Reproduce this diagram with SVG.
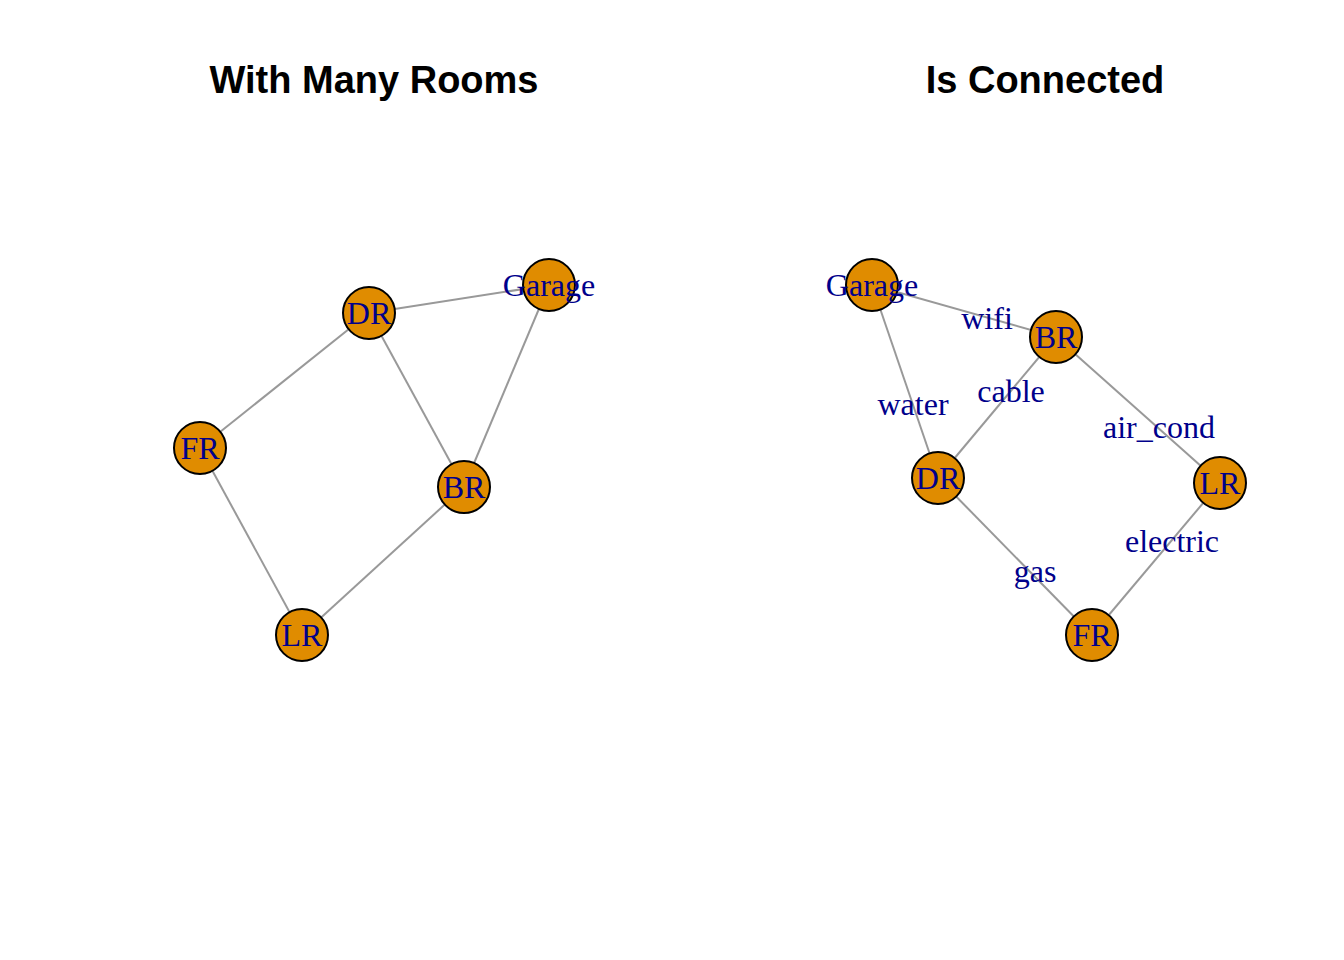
<svg xmlns="http://www.w3.org/2000/svg" width="1344" height="960" viewBox="0 0 1344 960">
<style>
.title{font-family:"Liberation Sans",Arial,sans-serif;font-weight:bold;font-size:38px;fill:#000;text-anchor:middle}
.node circle{fill:#E08C00;stroke:#000;stroke-width:2}
.lbl{font-family:"Liberation Serif","Times New Roman",serif;font-size:32px;fill:#00008B;text-anchor:middle}
.edges line{stroke:#999;stroke-width:2}
</style>
<rect width="1344" height="960" fill="#fff"/>
<text class="title" x="374" y="93">With Many Rooms</text>
<text class="title" x="1045" y="93">Is Connected</text>
<g id="edges-left" class="edges">
<line x1="369" y1="313" x2="549" y2="285"/>
<line x1="369" y1="313" x2="200" y2="448"/>
<line x1="369" y1="313" x2="464" y2="487"/>
<line x1="549" y1="285" x2="464" y2="487"/>
<line x1="200" y1="448" x2="302" y2="635"/>
<line x1="464" y1="487" x2="302" y2="635"/>
</g>
<g id="L-DR" class="node"><circle cx="369" cy="313" r="26"/><text class="lbl" x="369" y="324">DR</text></g>
<g id="L-Garage" class="node"><circle cx="549" cy="285" r="26"/><text class="lbl" x="549" y="296">Garage</text></g>
<g id="L-FR" class="node"><circle cx="200" cy="448" r="26"/><text class="lbl" x="200" y="459">FR</text></g>
<g id="L-BR" class="node"><circle cx="464" cy="487" r="26"/><text class="lbl" x="464" y="498">BR</text></g>
<g id="L-LR" class="node"><circle cx="302" cy="635" r="26"/><text class="lbl" x="302" y="646">LR</text></g>
<g id="edges-right" class="edges">
<line x1="872" y1="285" x2="1056" y2="337"/>
<line x1="872" y1="285" x2="938" y2="478"/>
<line x1="1056" y1="337" x2="938" y2="478"/>
<line x1="1056" y1="337" x2="1220" y2="483"/>
<line x1="938" y1="478" x2="1092" y2="635"/>
<line x1="1220" y1="483" x2="1092" y2="635"/>
<text class="lbl" x="987" y="329">wifi</text>
<text class="lbl" x="913" y="415">water</text>
<text class="lbl" x="1011" y="402">cable</text>
<text class="lbl" x="1159" y="438">air_cond</text>
<text class="lbl" x="1172" y="552">electric</text>
<text class="lbl" x="1035" y="582">gas</text>
</g>
<g id="R-Garage" class="node"><circle cx="872" cy="285" r="26"/><text class="lbl" x="872" y="296">Garage</text></g>
<g id="R-BR" class="node"><circle cx="1056" cy="337" r="26"/><text class="lbl" x="1056" y="348">BR</text></g>
<g id="R-DR" class="node"><circle cx="938" cy="478" r="26"/><text class="lbl" x="938" y="489">DR</text></g>
<g id="R-LR" class="node"><circle cx="1220" cy="483" r="26"/><text class="lbl" x="1220" y="494">LR</text></g>
<g id="R-FR" class="node"><circle cx="1092" cy="635" r="26"/><text class="lbl" x="1092" y="646">FR</text></g>
</svg>
